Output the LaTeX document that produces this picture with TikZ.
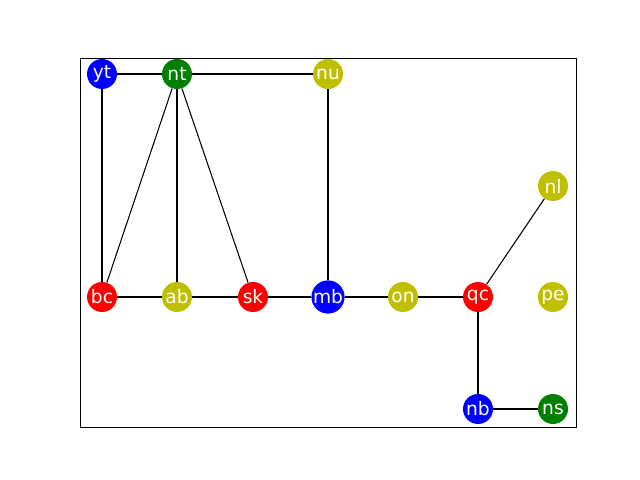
\documentclass[tikz,border=0pt]{standalone}
\usepackage{fontspec}
\setmainfont{DejaVu Sans}
\usepackage{tikz}
\usetikzlibrary{automata}
\definecolor{mplblue}{RGB}{0,0,255}
\definecolor{mplgreen}{RGB}{0,128,0}
\definecolor{mplred}{RGB}{255,0,0}
\definecolor{mplolive}{RGB}{191,191,0}
\tikzset{x=0.02cm, y=-0.02cm,
every state/.style={ % Sets the properties for each province
draw=none,
minimum size=30*0.02cm,
inner sep=0pt,
text=white,
font=\fontsize{10.6}{11}\selectfont},
blue/.style={fill=mplblue},
green/.style={fill=mplgreen},
red/.style={fill=mplred},
olive/.style={fill=mplolive},
every edge/.style={ % Sets the properties for each border
draw,
line width=0.6pt}}

\begin{document}
\begin{tikzpicture}
\useasboundingbox (0,0) rectangle (640,480);
\draw[line width=0.5pt] (80,58) rectangle (576,427);
\node[state, blue] (yt) at (102,74) {yt};
\node[state, green] (nt) at (177,74) {nt};
\node[state, olive] (nu) at (328,74) {nu};
\node[state, olive] (nl) at (553,186) {nl};
\node[state, red] (bc) at (102,297) {bc};
\node[state, olive] (ab) at (177,297) {ab};
\node[state, red] (sk) at (253,297) {sk};
\node[state, blue] (mb) at (328,297) {mb};
\node[state, olive] (on) at (403,297) {on};
\node[state, red] (qc) at (478,297) {qc};
\node[state, olive] (pe) at (553,297) {pe};
\node[state, blue] (nb) at (478,409) {nb};
\node[state, green] (ns) at (553,409) {ns};
\draw (yt) edge (nt);
\draw (nt) edge (nu);
\draw (yt) edge (bc);
\draw (nt) edge (bc);
\draw (nt) edge (ab);
\draw (nt) edge (sk);
\draw (nu) edge (mb);
\draw (bc) edge (ab);
\draw (ab) edge (sk);
\draw (sk) edge (mb);
\draw (mb) edge (on);
\draw (on) edge (qc);
\draw (qc) edge (nl);
\draw (qc) edge (nb);
\draw (nb) edge (ns);
\end{tikzpicture}
\end{document}
